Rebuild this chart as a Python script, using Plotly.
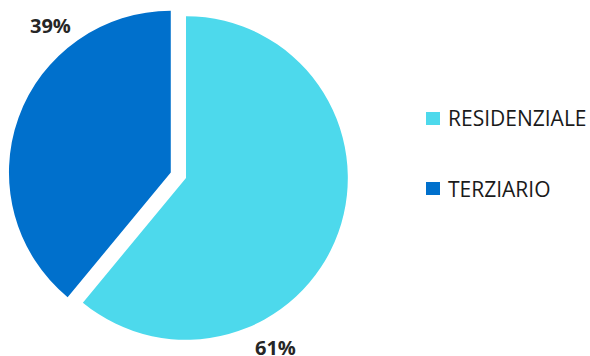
import plotly.graph_objects as go

# dati
categorie = ["RESIDENZIALE", "TERZIARIO"]
valori = [61, 39]
colori = ["#4DD9EC", "#0070CC"]
scostamento = [0, 0.1]

W, H = 590, 356

fig = go.Figure()

fig.add_trace(go.Pie(
    labels=categorie,
    values=valori,
    marker=dict(colors=colori, line=dict(width=0)),
    pull=scostamento,
    sort=False,
    direction="clockwise",
    rotation=0,
    textinfo="none",
    hoverinfo="label+percent",
    showlegend=False,
    domain=dict(x=[0, 372 / W], y=[0, 1]),
))

# etichette percentuali (posizionate come nell'originale)
pos_etichette = [(275, 347), (50, 25)]
for v, (px, py) in zip(valori, pos_etichette):
    fig.add_annotation(
        x=px / W, y=1 - py / H, xref="paper", yref="paper",
        xanchor="center", yanchor="middle",
        text=f"<b>{v}%</b>", showarrow=False,
        font=dict(family="Open Sans", size=20, color="#262626"),
    )

# legenda disegnata a mano per avere la spaziatura dell'originale
leg_y0, leg_step = 118.5, 70
for i, (nome, col) in enumerate(zip(categorie, colori)):
    yc = leg_y0 + i * leg_step
    fig.add_shape(
        type="rect", xref="paper", yref="paper",
        x0=426 / W, x1=440 / W, y0=1 - (yc - 6.5) / H, y1=1 - (yc + 6.5) / H,
        fillcolor=col, line=dict(width=0),
    )
    fig.add_annotation(
        x=446 / W, y=1 - yc / H, xref="paper", yref="paper",
        xanchor="left", yanchor="middle",
        text=nome, showarrow=False,
        font=dict(family="Open Sans", size=21, color="#1a1a1a"),
    )

fig.update_layout(
    width=W, height=H,
    margin=dict(l=0, r=0, t=0, b=0),
    paper_bgcolor="white",
    plot_bgcolor="white",
    showlegend=False,
)

fig.write_html("out.html", config={"displayModeBar": False},
               post_script="document.body.style.margin='0';")
